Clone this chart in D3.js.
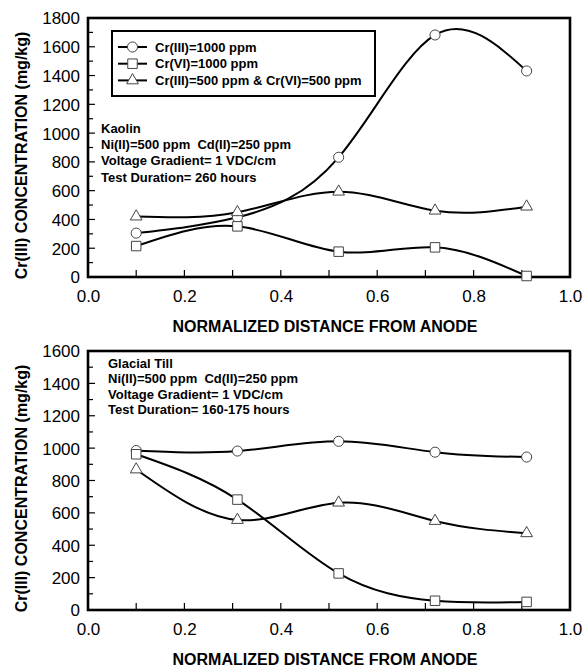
<!DOCTYPE html>
<html><head><meta charset="utf-8">
<script src="https://cdn.jsdelivr.net/npm/d3@7"></script>
<style>
body{margin:0;background:#fff;}
svg text{font-family:"Liberation Sans",Arial,sans-serif;fill:#000;white-space:pre;}
</style></head>
<body><svg id="c" width="583" height="667"></svg>
<script>
const xPositions = [0.10, 0.31, 0.52, 0.72, 0.91];
// Kaolin panel
const kaolinCr3 = [305, 415, 832, 1682, 1432];
const kaolinCr6 = [215, 352, 176, 206, 7];
const kaolinMix = [420, 450, 593, 461, 489];
// Glacial till panel
const tillCr3 = [985, 982, 1042, 975, 945];
const tillCr6 = [962, 682, 226, 57, 50];
const tillMix = [868, 556, 663, 550, 474];

const seriesNames = ["Cr(III)=1000 ppm", "Cr(VI)=1000 ppm", "Cr(III)=500 ppm & Cr(VI)=500 ppm"];
const seriesShapes = ["circle", "square", "triangle"];
const xTicks = [0, 0.2, 0.4, 0.6, 0.8, 1.0];
const kaolinNotes = ["Kaolin", "Ni(II)=500 ppm  Cd(II)=250 ppm", "Voltage Gradient= 1 VDC/cm", "Test Duration= 260 hours"];
const tillNotes = ["Glacial Till", "Ni(II)=500 ppm  Cd(II)=250 ppm", "Voltage Gradient= 1 VDC/cm", "Test Duration= 160-175 hours"];
const xTitle = "NORMALIZED DISTANCE FROM ANODE";
const yTitle = "Cr(III) CONCENTRATION (mg/kg)";

const svg = d3.select("#c");
const L = 88, R = 570;

function marker(g, shape, cx, cy) {
  const s = g.append("path")
    .attr("fill", "#fff").attr("stroke", "#444").attr("stroke-width", 1);
  if (shape === "circle") s.attr("d", d3.symbol(d3.symbolCircle, 80)());
  else if (shape === "square") s.attr("d", d3.symbol(d3.symbolSquare, 90)());
  else s.attr("d", d3.symbol(d3.symbolTriangle, 60)());
  s.attr("transform", `translate(${cx},${cy})`);
}

function panel(top, bottom, yMax, series, notes, noteX, noteY0, noteDy, legend) {
  const x = d3.scaleLinear().domain([0, 1]).range([L, R]);
  const y = d3.scaleLinear().domain([0, yMax]).range([bottom, top]);
  const g = svg.append("g");

  const yMinor = d3.range(0, yMax + 1, 100);
  const yAxis = d3.axisLeft(y).tickValues(d3.range(0, yMax + 1, 200)).tickFormat(d3.format("d")).tickSize(0).tickPadding(8);
  const ya = g.append("g").attr("transform", `translate(${L},0)`).call(yAxis);
  ya.select(".domain").remove();
  ya.selectAll("text").style("font-size", "17px").attr("dy", "0.35em");
  g.append("g").selectAll("line").data(yMinor).join("line")
    .attr("x1", L).attr("x2", d => L + (d % 200 === 0 ? 7 : 5))
    .attr("y1", d => y(d)).attr("y2", d => y(d))
    .attr("stroke", "#000").attr("stroke-width", 1.2);

  const xAxis = d3.axisBottom(x).tickValues(xTicks).tickFormat(d3.format(".1f")).tickSize(0).tickPadding(13);
  const xa = g.append("g").attr("transform", `translate(0,${bottom})`).call(xAxis);
  xa.select(".domain").remove();
  xa.selectAll("text").style("font-size", "17px");
  g.append("g").selectAll("line").data(d3.range(1, 10).map(d => d / 10)).join("line")
    .attr("x1", d => x(d)).attr("x2", d => x(d))
    .attr("y1", bottom).attr("y2", bottom - 7)
    .attr("stroke", "#000").attr("stroke-width", 1.2);

  g.append("rect").attr("x", L).attr("y", top).attr("width", R - L).attr("height", bottom - top)
    .attr("fill", "none").attr("stroke", "#000").attr("stroke-width", 2.6);

  g.append("text").attr("x", (L + R) / 2 - 4).attr("y", bottom + 55)
    .attr("text-anchor", "middle").style("font-size", "16px").style("font-weight", "bold").text(xTitle);
  g.append("text").attr("transform", `translate(27,${(top + bottom) / 2 + 8}) rotate(-90)`)
    .attr("text-anchor", "middle").style("font-size", "16px").style("font-weight", "bold").text(yTitle);

  const line = d3.line().x((d, i) => x(xPositions[i])).y(d => y(d)).curve(d3.curveNatural);
  series.forEach((vals) => {
    g.append("path").attr("d", line(vals)).attr("fill", "none").attr("stroke", "#000").attr("stroke-width", 2);
  });
  series.forEach((vals, k) => {
    vals.forEach((v, i) => marker(g, seriesShapes[k], x(xPositions[i]), y(v)));
  });

  notes.forEach((t, i) => {
    g.append("text").attr("x", noteX).attr("y", noteY0 + i * noteDy).attr("dy", "0.35em")
      .attr("xml:space", "preserve")
      .style("font-size", "13px").style("font-weight", "bold").text(t);
  });

  if (legend) {
    g.append("rect").attr("x", 112).attr("y", 31).attr("width", 263).attr("height", 65)
      .attr("fill", "#fff").attr("stroke", "#000").attr("stroke-width", 2);
    seriesNames.forEach((t, i) => {
      const yy = 47 + i * 16.7;
      g.append("line").attr("x1", 118).attr("x2", 147).attr("y1", yy).attr("y2", yy)
        .attr("stroke", "#000").attr("stroke-width", 2);
      marker(g, seriesShapes[i], 132.5, yy);
      g.append("text").attr("x", 155).attr("y", yy).attr("dy", "0.35em")
        .style("font-size", "13px").style("font-weight", "bold").text(t);
    });
  }
}

panel(18, 277, 1800, [kaolinCr3, kaolinCr6, kaolinMix], kaolinNotes, 101, 128, 16.4, true);
panel(351, 610, 1600, [tillCr3, tillCr6, tillMix], tillNotes, 108, 363, 15.6, false);
</script></body></html>
